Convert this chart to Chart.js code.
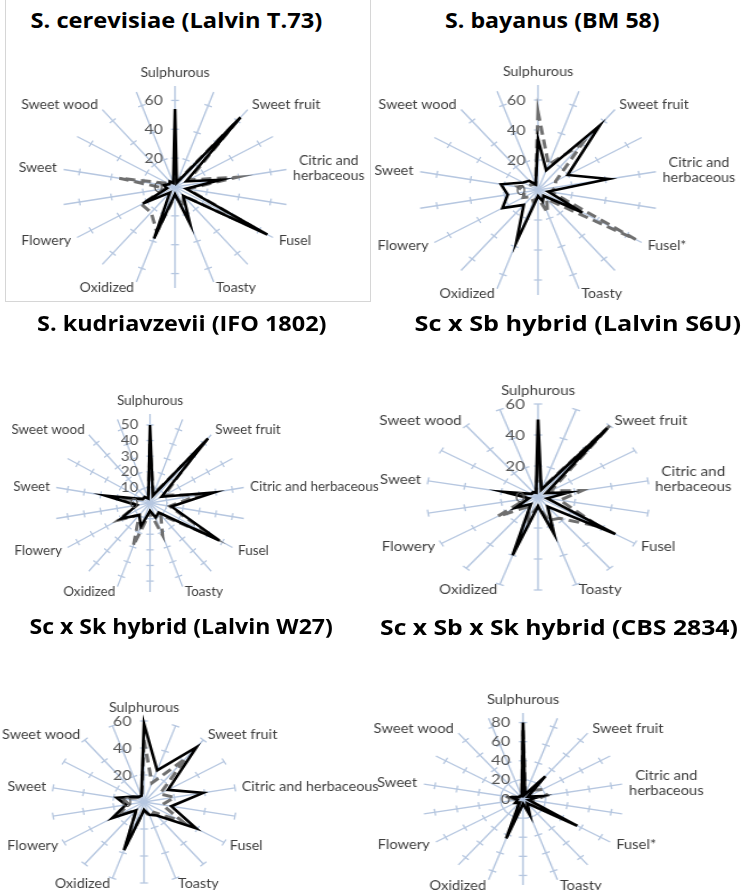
<!DOCTYPE html>
<html>
<head>
<meta charset="utf-8">
<script src="https://cdn.jsdelivr.net/npm/chart.js@4.4.0/dist/chart.umd.min.js"></script>
<style>
  html, body { margin: 0; padding: 0; background: #fff; }
  #page { position: relative; width: 742px; height: 890px; overflow: hidden; }
  .title { position: absolute; font-family: "Open Sans", Lato, sans-serif; font-weight: 700;
           font-size: 21px; line-height: 26px; color: #000; white-space: nowrap;
           transform-origin: 50% 50%; }
  .panel { position: absolute; }
  .frame { position: absolute; border: 1px solid #d6d6d6; }
</style>
</head>
<body>
<div id="page">
  <div class="frame" style="left:5px;top:-1px;width:364px;height:301px;"></div>
</div>
<script>
// Aroma attributes on 18 spokes; every second spoke carries a name.
const labelsWrapped = ['Sulphurous', '', 'Sweet fruit', '', ['Citric and', 'herbaceous'], '',
  'Fusel', '', 'Toasty', '', 'Oxidized', '', 'Flowery', '', 'Sweet', '', 'Sweet wood', ''];
const labelsFlat = ['Sulphurous', '', 'Sweet fruit', '', 'Citric and herbaceous', '',
  'Fusel', '', 'Toasty', '', 'Oxidized', '', 'Flowery', '', 'Sweet', '', 'Sweet wood', ''];
const labelsStar = ['Sulphurous', '', 'Sweet fruit', '', ['Citric and', 'herbaceous'], '',
  'Fusel*', '', 'Toasty', '', 'Oxidized', '', 'Flowery', '', 'Sweet', '', 'Sweet wood', ''];

const titles = ['S. cerevisiae (Lalvin T.73)', 'S. bayanus (BM 58)', 'S. kudriavzevii (IFO 1802)',
  'Sc x Sb hybrid (Lalvin S6U)', 'Sc x Sk hybrid (Lalvin W27)', 'Sc x Sb x Sk hybrid (CBS 2834)'];

// Intensity scores, Sulphurous first, clockwise round the 18 spokes.
const t73Solid  = [54, 3, 63, 8, 29, 7, 66, 8, 27, 5, 38, 5, 23, 5, 7, 4, 5, 3];
const t73Dashed = [5, 4, 60, 10, 39, 8, 58, 8, 14, 6, 33, 23, 24, 6, 35, 5, 5, 3];
const bm58Solid  = [34, 14, 56, 20, 42, 6, 30, 5, 8, 4, 37, 13, 24, 18, 22, 10, 8, 4];
const bm58Dashed = [52, 18, 40, 12, 10, 8, 66, 8, 16, 5, 8, 6, 10, 8, 12, 6, 5, 4];
const ifoSolid  = [50, 5, 54, 8, 39, 13, 48, 8, 10, 5, 16, 10, 20, 8, 27, 5, 5, 3];
const ifoDashed = [38, 6, 45, 10, 30, 12, 44, 10, 22, 6, 29, 10, 22, 8, 15, 5, 5, 3];
const s6uSolid  = [50, 5, 58, 5, 17, 5, 48, 8, 25, 6, 40, 6, 14, 5, 19, 4, 4, 3];
const s6uDashed = [20, 6, 60, 8, 24, 12, 38, 18, 16, 6, 15, 8, 25, 6, 8, 4, 4, 3];
const w27Solid  = [58, 25, 53, 18, 39, 18, 39, 13, 10, 6, 38, 8, 24, 12, 18, 8, 5, 5];
const w27Dashed = [46, 15, 42, 12, 20, 12, 29, 10, 12, 6, 34, 8, 20, 10, 14, 6, 5, 4];
const cbsSolid  = [80, 5, 31, 5, 17, 5, 56, 6, 18, 5, 44, 5, 8, 5, 10, 4, 4, 3];
const cbsDashed = [72, 6, 12, 20, 22, 8, 12, 6, 10, 5, 25, 5, 8, 6, 16, 4, 4, 3];

// Radial axis: upper bound, tick step and highest labelled tick per panel.
const axisMax   = [70, 70, 57, 60, 60, 90];
const axisStep  = [20, 20, 10, 20, 20, 20];
const labelTop  = [60, 60, 50, 60, 60, 80];

// Panel geometry: centre, radius, horizontal stretch, title anchor and width.
const panels = [
  { cx: 175, cy: 187, R: 101, sx: 1.12, tx: 176, ty: 20,  tw: 292, labels: labelsWrapped, solid: t73Solid, dashed: t73Dashed },
  { cx: 538, cy: 190, R: 105, sx: 1.14, tx: 552, ty: 20,  tw: 215, labels: labelsStar,    solid: bm58Solid, dashed: bm58Dashed },
  { cx: 150, cy: 503, R: 89,  sx: 1.07, tx: 181, ty: 323, tw: 289, labels: labelsFlat,    solid: ifoSolid, dashed: ifoDashed },
  { cx: 538, cy: 497, R: 93,  sx: 1.20, tx: 578, ty: 323, tw: 327, labels: labelsWrapped, solid: s6uSolid, dashed: s6uDashed },
  { cx: 144, cy: 802, R: 81,  sx: 1.14, tx: 181, ty: 626, tw: 303, labels: labelsFlat,    solid: w27Solid, dashed: w27Dashed },
  { cx: 523, cy: 799, R: 86,  sx: 1.17, tx: 559, ty: 627, tw: 358, labels: labelsStar,    solid: cbsSolid, dashed: cbsDashed }
];

const spokeColor = '#b6c7e0';
const textColor = '#3f3f3f';

// Draws tick crossings on every spoke, the axis numbers and the spoke names.
const spokeDecor = {
  id: 'spokeDecor',
  beforeDatasetsDraw(chart) {
    const sc = chart.scales.r;
    const ctx = chart.ctx;
    const n = chart.data.labels.length;
    ctx.save();
    ctx.strokeStyle = spokeColor;
    ctx.lineWidth = 1.3;
    sc.ticks.forEach(t => {
      if (t.value <= 0) return;
      const d = sc.getDistanceFromCenterForValue(t.value);
      for (let i = 0; i < n; i++) {
        const p = sc.getPointPosition(i, d);
        const a = sc.getIndexAngle(i);
        const ux = Math.cos(a), uy = Math.sin(a);
        ctx.beginPath();
        ctx.moveTo(p.x - ux * 3.5, p.y - uy * 3.5);
        ctx.lineTo(p.x + ux * 3.5, p.y + uy * 3.5);
        ctx.stroke();
      }
    });
    ctx.restore();
  },
  afterDraw(chart) {
    const sc = chart.scales.r;
    const ctx = chart.ctx;
    const o = chart.options.plugins.spokeDecor;
    ctx.save();
    // axis numbers, left of the upright spoke
    ctx.font = '14px Lato, "Open Sans", sans-serif';
    ctx.fillStyle = '#555555';
    ctx.textAlign = 'right';
    ctx.textBaseline = 'middle';
    sc.ticks.forEach(t => {
      if (t.value > o.labelTop) return;
      const d = sc.getDistanceFromCenterForValue(t.value);
      ctx.fillText(String(t.value), sc.xCenter - 11, sc.yCenter - d);
    });
    // spoke names
    ctx.font = '12.6px Lato, "Open Sans", sans-serif';
    ctx.fillStyle = textColor;
    ctx.textAlign = 'center';
    const lh = 15;
    chart.data.labels.forEach((lab, i) => {
      if (!lab) return;
      const lines = Array.isArray(lab) ? lab : [lab];
      const pos = sc.getPointPosition(i, sc.drawingArea + 6);
      const a = sc.getIndexAngle(i);
      const s = Math.sin(a), c = Math.cos(a);
      const h = lines.length * lh;
      const w = Math.max(...lines.map(l => ctx.measureText(l).width));
      let left;
      if (s > 0.05) left = pos.x;
      else if (s < -0.05) left = pos.x - w;
      else left = pos.x - w / 2;
      const mid = pos.y - (c > 0.9 ? h / 2 : 0);
      const top = mid - h / 2;
      lines.forEach((l, j) => ctx.fillText(l, left + w / 2, top + lh * (j + 0.5)));
    });
    ctx.restore();
  }
};

const page = document.getElementById('page');
const mx = 150, my = 40;

panels.forEach((p, k) => {
  const t = document.createElement('div');
  t.className = 'title';
  t.textContent = titles[k];
  page.appendChild(t);
  const tw = t.offsetWidth;
  t.style.left = (p.tx - tw / 2) + 'px';
  t.style.top = (p.ty - 13) + 'px';
  t.style.transform = 'scaleX(' + (p.tw / tw) + ')';

  const W = 2 * (p.R + mx), H = 2 * (p.R + my);
  const box = document.createElement('div');
  box.className = 'panel';
  box.style.left = (p.cx - W / 2) + 'px';
  box.style.top = (p.cy - H / 2) + 'px';
  box.style.width = W + 'px';
  box.style.height = H + 'px';
  box.style.transform = 'scaleX(' + p.sx + ')';
  box.style.transformOrigin = '50% 50%';
  const cv = document.createElement('canvas');
  cv.width = W; cv.height = H;
  cv.style.width = W + 'px'; cv.style.height = H + 'px';
  box.appendChild(cv);
  page.appendChild(box);

  const step = axisStep[k];
  new Chart(cv, {
    type: 'radar',
    data: {
      labels: p.labels,
      datasets: [
        { data: p.solid, borderColor: '#000000', borderWidth: 2.6, fill: false,
          pointRadius: 0, tension: 0 },
        { data: p.dashed, borderColor: '#6f6f6f', borderWidth: 3, borderDash: [9, 5],
          fill: false, pointRadius: 0, tension: 0 }
      ]
    },
    options: {
      responsive: false,
      animation: false,
      devicePixelRatio: 1,
      layout: { padding: { left: mx, right: mx, top: my, bottom: my } },
      plugins: {
        legend: { display: false },
        tooltip: { enabled: false },
        spokeDecor: { labelTop: labelTop[k] }
      },
      scales: {
        r: {
          min: 0,
          max: axisMax[k],
          ticks: { display: false, stepSize: step },
          afterBuildTicks: sc => { sc.ticks = sc.ticks.filter(tk => tk.value % step === 0); },
          grid: { display: false },
          angleLines: { display: true, color: spokeColor, lineWidth: 1.4 },
          pointLabels: { display: false }
        }
      }
    },
    plugins: [spokeDecor]
  });
});
</script>
</body>
</html>
